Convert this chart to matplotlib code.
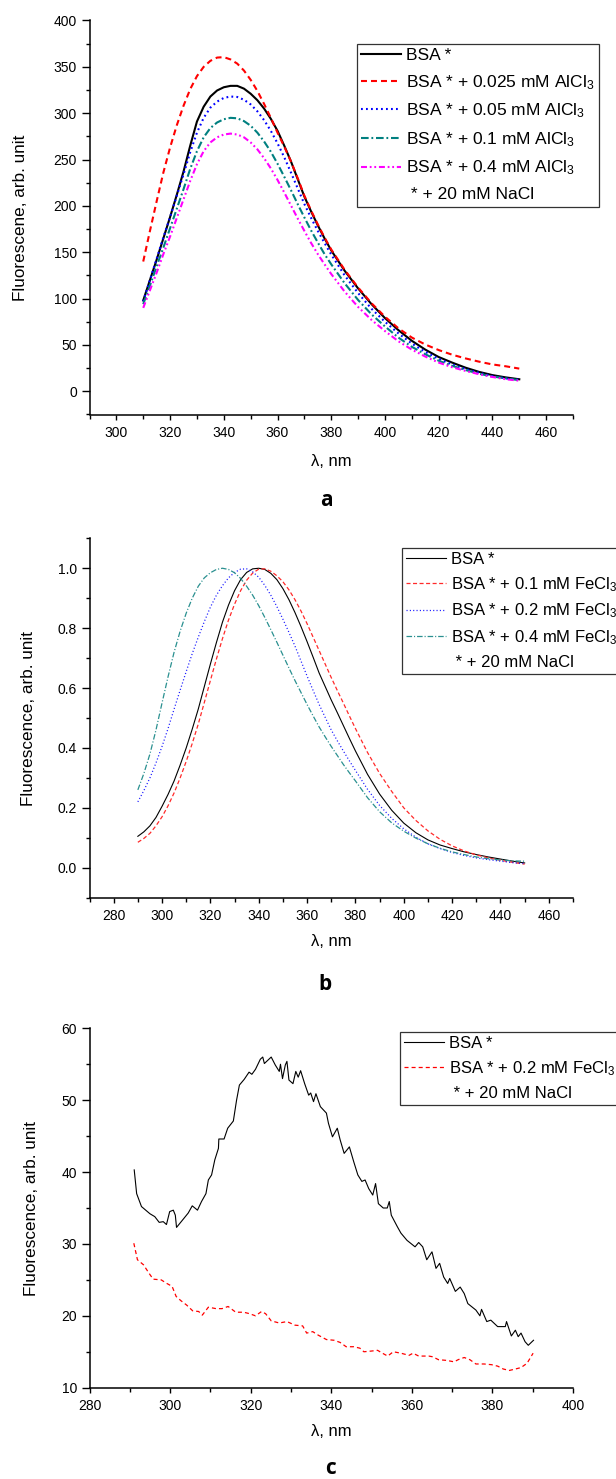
import matplotlib
matplotlib.use("Agg")
import matplotlib.pyplot as plt
from matplotlib.lines import Line2D
from matplotlib.ticker import MultipleLocator, FormatStrFormatter

plt.rcParams["font.family"] = ["Liberation Sans", "DejaVu Sans"]
plt.rcParams["mathtext.fontset"] = "custom"
plt.rcParams["mathtext.rm"] = "Liberation Sans"
plt.rcParams["mathtext.it"] = "Liberation Sans:italic"
plt.rcParams["lines.scale_dashes"] = False

W, H = 616, 1479

# ---- panel a: AlCl3 ----
wl_a = [310, 312.5, 315, 317.5, 320, 322.5, 325, 327.5, 330, 332.5, 335, 337.5, 340,
        342.5, 345, 347.5, 350, 352.5, 355, 357.5, 360, 362.5, 365, 367.5, 370, 372.5,
        375, 377.5, 380, 385, 390, 395, 400, 405, 410, 415, 420, 425, 430, 435, 440,
        445, 450]
bsa_a = [98, 120, 142, 165, 188, 212, 237, 265, 291, 307, 318, 324.5, 328,
         329.5, 329.5, 326.5, 321, 314, 305, 294, 281, 265, 248, 229, 210, 194,
         179, 165, 152, 130, 111, 94, 79, 66, 54.5, 45, 37, 31, 25.5, 21, 17.5,
         15, 13]
al_0025 = [140, 173, 205, 236, 263, 287, 308, 326, 340, 350, 356.5, 360, 360.5,
           358, 353.5, 346, 336, 324, 310, 295, 279, 264, 248, 230, 211, 195,
           180, 166, 153, 131, 112, 95, 80.5, 68, 58, 50.5, 44.5, 39.5, 35.5, 32, 29,
           27, 24.5]
al_005 = [97, 120, 143, 166, 188, 211, 234, 258, 279, 295, 306, 312.5, 316.5,
          318, 317.5, 314.5, 309.5, 302, 292.5, 281, 267.5, 252.5, 236, 219, 202, 187,
          173, 160, 147.5, 125, 106, 89, 75, 62.5, 51.5, 42.5, 35, 29, 24, 20, 16.5,
          14, 12.5]
al_01 = [94, 114, 135, 155, 176, 197, 218, 240, 259, 274, 284, 290, 293.5,
         295, 294.5, 291.5, 286.5, 279, 269.5, 258.5, 245.5, 231.5, 217, 202, 187.5, 173.5,
         160.5, 148, 137, 116.5, 98.5, 83, 70, 58, 48, 40, 33, 27.5, 23, 19, 16,
         14, 12]
al_04 = [90, 109, 128, 148, 167, 187, 207, 227, 245, 259, 268.5, 274, 277,
         278, 277, 274, 268.5, 261, 251.5, 240.5, 228, 214.5, 200.5, 186.5, 173, 160,
         148, 137, 126.5, 107.5, 91, 77, 65, 54, 45, 37.5, 31, 26, 22, 18.5, 15.5,
         13, 11.5]
labels_a = ["BSA *", "BSA * + 0.025 mM AlCl$_3$", "BSA * + 0.05 mM AlCl$_3$",
            "BSA * + 0.1 mM AlCl$_3$", "BSA * + 0.4 mM AlCl$_3$"]

# ---- panel b: FeCl3, normalised ----
wl_b = [290, 292.5, 295, 297.5, 300, 302.5, 305, 307.5, 310, 312.5, 315, 317.5, 320,
        322.5, 325, 327.5, 330, 332.5, 335, 337.5, 340, 342.5, 345, 347.5, 350, 352.5,
        355, 357.5, 360, 362.5, 365, 367.5, 370, 372.5, 375, 377.5, 380, 385, 390, 395,
        400, 405, 410, 415, 420, 425, 430, 435, 440, 445, 450]
bsa_b = [0.105, 0.12, 0.14, 0.168, 0.205, 0.245, 0.29, 0.343, 0.40, 0.463, 0.53, 0.605,
         0.68, 0.752, 0.82, 0.877, 0.925, 0.962, 0.986, 0.998, 1.0, 0.996, 0.983, 0.962,
         0.932, 0.895, 0.852, 0.805, 0.755, 0.703, 0.65, 0.605, 0.56, 0.518, 0.475, 0.432,
         0.39, 0.312, 0.246, 0.192, 0.149, 0.117, 0.093, 0.076, 0.064, 0.053, 0.044,
         0.036, 0.029, 0.022, 0.016]
fe_01 = [0.085, 0.098, 0.115, 0.14, 0.17, 0.207, 0.25, 0.3, 0.355, 0.415, 0.48, 0.552,
         0.625, 0.697, 0.765, 0.827, 0.88, 0.925, 0.96, 0.984, 0.997, 0.998, 0.99, 0.975,
         0.955, 0.928, 0.895, 0.857, 0.815, 0.77, 0.725, 0.68, 0.635, 0.592, 0.55, 0.507,
         0.465, 0.385, 0.315, 0.255, 0.2, 0.158, 0.123, 0.095, 0.073, 0.056, 0.043,
         0.033, 0.025, 0.018, 0.012]
fe_02 = [0.22, 0.258, 0.30, 0.35, 0.405, 0.465, 0.53, 0.593, 0.655, 0.715, 0.77, 0.822,
         0.87, 0.91, 0.942, 0.968, 0.986, 0.997, 0.998, 0.988, 0.97, 0.943, 0.91, 0.872,
         0.83, 0.786, 0.74, 0.69, 0.64, 0.592, 0.545, 0.502, 0.46, 0.424, 0.39, 0.357,
         0.325, 0.262, 0.208, 0.165, 0.13, 0.102, 0.08, 0.064, 0.051, 0.041, 0.033,
         0.027, 0.022, 0.017, 0.014]
fe_04 = [0.26, 0.315, 0.38, 0.46, 0.55, 0.638, 0.72, 0.79, 0.85, 0.9, 0.94, 0.968,
         0.985, 0.996, 1.0, 0.996, 0.985, 0.966, 0.94, 0.91, 0.875, 0.836, 0.795, 0.753,
         0.71, 0.667, 0.625, 0.585, 0.545, 0.507, 0.47, 0.437, 0.405, 0.375, 0.345, 0.317,
         0.29, 0.234, 0.187, 0.15, 0.122, 0.099, 0.08, 0.065, 0.053, 0.044, 0.036,
         0.030, 0.026, 0.023, 0.022]
labels_b = ["BSA *", "BSA * + 0.1 mM FeCl$_3$", "BSA * + 0.2 mM FeCl$_3$",
            "BSA * + 0.4 mM FeCl$_3$"]

# ---- panel c: raw spectra ----
wl_c_bsa = [291.1, 291.7, 292.9, 295.0, 296.2, 297.3, 298.3, 299.1, 299.9, 300.8, 301.3,
            301.6, 303.2, 304.5, 305.5, 306.8, 307.8, 308.9, 309.5, 310.3, 311.1, 312.0,
            312.1, 313.4, 314.3, 315.7, 316.5, 317.2, 318.4, 319.6, 320.3, 321.2, 322.4,
            323.0, 323.4, 325.1, 326.1, 327.1, 327.4, 327.9, 328.6, 329.0, 329.5, 330.5,
            331.2, 331.8, 332.4, 333.4, 334.4, 334.9, 335.6, 336.2, 337.3, 338.8, 339.3,
            340.3, 341.5, 342.2, 343.2, 344.5, 345.6, 346.6, 347.6, 348.4, 349.3, 350.3,
            351.0, 351.7, 352.9, 353.9, 354.4, 354.9, 356.4, 357.3, 358.8, 360.8, 361.7,
            362.7, 363.7, 365.0, 366.0, 366.9, 367.9, 368.9, 369.4, 370.8, 372.0, 373.0,
            373.9, 375.9, 376.9, 377.3, 378.6, 379.6, 381.3, 383.2, 383.5, 384.7, 385.7,
            386.4, 387.1, 388.1, 388.9, 390.2]
fl_c_bsa = [40.3, 37.0, 35.2, 34.2, 33.8, 33.0, 33.1, 32.7, 34.5, 34.7, 34.0,
            32.3, 33.4, 34.3, 35.3, 34.7, 35.9, 37.0, 38.9, 39.6, 41.7, 43.3,
            44.6, 44.6, 46.1, 47.1, 50.0, 52.1, 52.9, 53.9, 53.6, 54.3, 55.7,
            56.0, 55.1, 56.0, 54.9, 54.0, 55.0, 53.0, 54.9, 55.4, 52.8, 52.3,
            54.0, 53.2, 54.1, 52.3, 50.7, 51.0, 49.8, 50.9, 49.1, 48.2, 46.8,
            44.9, 46.1, 44.5, 42.6, 43.5, 41.4, 39.6, 38.7, 38.9, 37.7, 36.8,
            38.4, 35.6, 35.0, 35.0, 35.9, 34.0, 32.4, 31.5, 30.5, 29.6, 30.2,
            29.6, 27.8, 28.9, 26.6, 27.3, 25.4, 24.5, 25.2, 23.4, 24.0, 23.1,
            21.7, 20.8, 20.0, 20.9, 19.2, 19.4, 18.5, 18.5, 19.2, 17.2, 18.0,
            17.1, 17.6, 16.4, 15.9, 16.6]
wl_c_fe = [291.0, 291.9, 293.4, 294.8, 295.8, 297.8, 299.2, 300.5, 301.5, 302.7, 304.1,
           305.6, 307.1, 308.0, 309.5, 311.4, 312.9, 314.4, 316.3, 318.3, 319.7, 321.2,
           322.7, 323.7, 325.1, 327.1, 329.0, 331.0, 332.9, 333.9, 335.4, 336.8, 338.8,
           340.7, 342.2, 343.7, 345.6, 347.1, 348.1, 350.0, 351.5, 352.7, 354.0, 355.4,
           357.3, 359.3, 360.3, 361.7, 364.2, 365.2, 366.6, 368.6, 370.5, 371.5, 373.0,
           374.4, 375.9, 377.9, 379.8, 381.3, 382.7, 384.2, 385.7, 387.1, 388.6, 390.1]
fl_c_fe = [30.1, 27.8, 27.1, 25.9, 25.1, 25.0, 24.5, 24.1, 22.7, 22.1, 21.5,
           20.7, 20.6, 20.1, 21.2, 21.0, 21.0, 21.3, 20.5, 20.5, 20.3, 20.0,
           20.6, 20.3, 19.3, 19.0, 19.2, 18.7, 18.6, 17.6, 17.8, 17.3, 16.7,
           16.6, 16.3, 15.7, 15.7, 15.5, 15.0, 15.1, 15.2, 14.8, 14.4, 15.0,
           14.8, 14.5, 14.8, 14.4, 14.4, 14.3, 13.9, 13.8, 13.6, 13.9, 14.2,
           13.9, 13.3, 13.3, 13.2, 13.0, 12.6, 12.4, 12.6, 12.8, 13.4, 14.8]
labels_c = ["BSA *", "BSA * + 0.2 mM FeCl$_3$"]
note = " * + 20 mM NaCl"

fig = plt.figure(figsize=(W / 100, H / 100), dpi=100)


def axes_px(left, top, right, bottom):
    return fig.add_axes([left / W, 1 - bottom / H, (right - left) / W, (bottom - top) / H])


def style(ax, xlim, ylim, xstep, ystep, yfmt, ylabel, ylab_x):
    ax.set_xlim(*xlim)
    ax.set_ylim(*ylim)
    for s in ("top", "right"):
        ax.spines[s].set_visible(False)
    for s in ("left", "bottom"):
        ax.spines[s].set_linewidth(1.1)
    ax.xaxis.set_major_locator(MultipleLocator(xstep))
    ax.xaxis.set_minor_locator(MultipleLocator(xstep / 2))
    ax.yaxis.set_major_locator(MultipleLocator(ystep))
    ax.yaxis.set_minor_locator(MultipleLocator(ystep / 2))
    ax.yaxis.set_major_formatter(FormatStrFormatter(yfmt))
    ax.tick_params(axis="y", which="major", length=5.5, width=1, pad=3.5, labelsize=10)
    ax.tick_params(axis="y", which="minor", length=3, width=1)
    ax.tick_params(axis="x", which="major", length=3.5, width=1, pad=4.5, labelsize=10)
    ax.tick_params(axis="x", which="minor", length=3, width=1)
    ax.set_xlabel("λ, nm", fontsize=12, va="center")
    ax.set_ylabel(ylabel, fontsize=12.3, va="center")
    ax.yaxis.set_label_coords(ylab_x, 0.5)


def legend(ax, handles, labels, left, top, fontsize, hlen, spacing):
    leg = ax.legend(handles, labels, loc="upper left",
                    bbox_to_anchor=(left / W, 1 - top / H), bbox_transform=fig.transFigure,
                    fontsize=fontsize, frameon=True, fancybox=False, borderpad=0.25,
                    borderaxespad=0, handlelength=hlen, handletextpad=0.3,
                    labelspacing=spacing)
    leg.get_frame().set_edgecolor("black")
    leg.get_frame().set_linewidth(0.9)
    return leg


blank = Line2D([], [], linestyle="none")

# --- a ---
ax_a = axes_px(89.5, 20.5, 573, 414.5)
la = []
la += ax_a.plot(wl_a, bsa_a, color="black", lw=1.5)
la += ax_a.plot(wl_a, al_0025, color="red", lw=1.5, dashes=(4.3, 2.9))
la += ax_a.plot(wl_a, al_005, color="blue", lw=1.5, dashes=(1.3, 2.3))
la += ax_a.plot(wl_a, al_01, color="#008080", lw=1.5, dashes=(5.5, 2.0, 1.3, 2.0))
la += ax_a.plot(wl_a, al_04, color="magenta", lw=1.5, dashes=(4.3, 2.0, 1.3, 2.0, 1.3, 2.0))
style(ax_a, (290, 470), (-25, 400), 20, 50, "%d", "Fluorescene, arb. unit",
      (20.6 - 89.5) / (573 - 89.5))
ax_a.xaxis.set_label_coords(0.5, -(462 - 414.5) / 394)
legend(ax_a, la + [blank], labels_a + [note], 357, 43.5, 12.5, 2.3, 0.57)

# --- b ---
ax_b = axes_px(89.5, 538.3, 573, 897.7)
lb = []
lb += ax_b.plot(wl_b, bsa_b, color="black", lw=0.8)
lb += ax_b.plot(wl_b, fe_01, color="#ff2a2a", lw=0.9, dashes=(2.9, 1.8))
lb += ax_b.plot(wl_b, fe_02, color="#1a1aff", lw=0.9, dashes=(0.8, 1.6))
lb += ax_b.plot(wl_b, fe_04, color="#2a9090", lw=0.9, dashes=(4.0, 1.4, 0.8, 1.4))
style(ax_b, (270, 470), (-0.1, 1.1), 20, 0.2, "%.1f", "Fluorescence, arb. unit",
      (28 - 89.5) / (573 - 89.5))
ax_b.xaxis.set_label_coords(0.5, -(942 - 897.7) / 359.4)
legend(ax_b, lb + [blank], labels_b + [note], 401.6, 548, 12, 2.4, 0.47)

# --- c ---
ax_c = axes_px(89.5, 1028.3, 573, 1387.7)
lc = []
lc += ax_c.plot(wl_c_bsa, fl_c_bsa, color="black", lw=0.8)
lc += ax_c.plot(wl_c_fe, fl_c_fe, color="red", lw=0.9, dashes=(2.9, 2.2))
style(ax_c, (280, 400), (10, 60), 20, 10, "%d", "Fluorescence, arb. unit",
      (31 - 89.5) / (573 - 89.5))
ax_c.xaxis.set_label_coords(0.5, -(1432 - 1387.7) / 359.4)
legend(ax_c, lc + [blank], labels_c + [note], 399.6, 1031.7, 12, 2.4, 0.5)

# panel letters
for letter, x, y in (("a", 326, 501), ("b", 325, 984), ("c", 331, 1469)):
    fig.text(x / W, 1 - y / H, letter, fontsize=15, fontweight="bold",
             family=["Open Sans", "DejaVu Sans"], ha="center", va="center")

fig.savefig("out.png", dpi=100)
